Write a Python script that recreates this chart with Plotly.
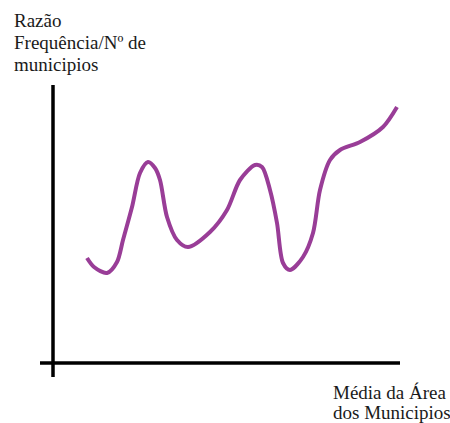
import plotly.graph_objects as go

# Hand-drawn curve: "Média da Área dos Municipios" (x) vs "Razão Frequência/Nº de municipios" (y)
area_media = [34, 41, 54, 64, 70, 79, 87, 95, 102, 107, 114, 124, 135, 157, 174, 187,
              202, 209, 217, 224, 230, 237, 250, 260, 267, 277, 287, 307, 330, 344]
razao = [105, 96, 90, 101, 123, 156, 190, 201, 195, 183, 146, 123, 116, 131, 153, 183,
         198, 196, 173, 140, 100, 93, 106, 130, 173, 203, 213, 221, 236, 256]

y_title_lines = ["Razão", "Frequência/Nº de", "municipios"]
x_title_lines = ["Média da Área", "dos Municipios"]

fig = go.Figure()
fig.add_trace(go.Scatter(
    x=area_media, y=razao, mode="lines",
    line=dict(color="#993d97", width=4, shape="spline", smoothing=0.85),
    hoverinfo="skip", showlegend=False,
))

# Axis lines (hand-drawn style, crossing slightly past the origin)
fig.add_shape(type="line", x0=0, x1=0, y0=-14, y1=278, xref="x", yref="y",
              line=dict(color="black", width=3.5))
fig.add_shape(type="line", x0=-13, x1=347, y0=0, y1=0, xref="x", yref="y",
              line=dict(color="black", width=3.5))

font = dict(family="'Liberation Serif', 'Times New Roman', serif", size=19, color="#1a1a1a")
for txt, yc in zip(y_title_lines, [21, 42, 64]):
    fig.add_annotation(text=txt, x=12 / 450, y=1 - yc / 423, xref="paper", yref="paper",
                       xanchor="left", yanchor="middle", showarrow=False, font=font)
for txt, yc in zip(x_title_lines, [392, 412]):
    fig.add_annotation(text=txt, x=331 / 450, y=1 - yc / 423, xref="paper", yref="paper",
                       xanchor="left", yanchor="middle", showarrow=False, font=font)

fig.update_layout(
    width=450, height=423,
    margin=dict(l=0, r=0, t=0, b=0),
    paper_bgcolor="white", plot_bgcolor="white",
    xaxis=dict(range=[-53, 397], visible=False, fixedrange=True),
    yaxis=dict(range=[-60, 363], visible=False, fixedrange=True),
)

fig.write_html(
    "out.html",
    config={"displayModeBar": False},
    post_script="document.body.style.margin='0';document.body.style.overflow='hidden';",
)
